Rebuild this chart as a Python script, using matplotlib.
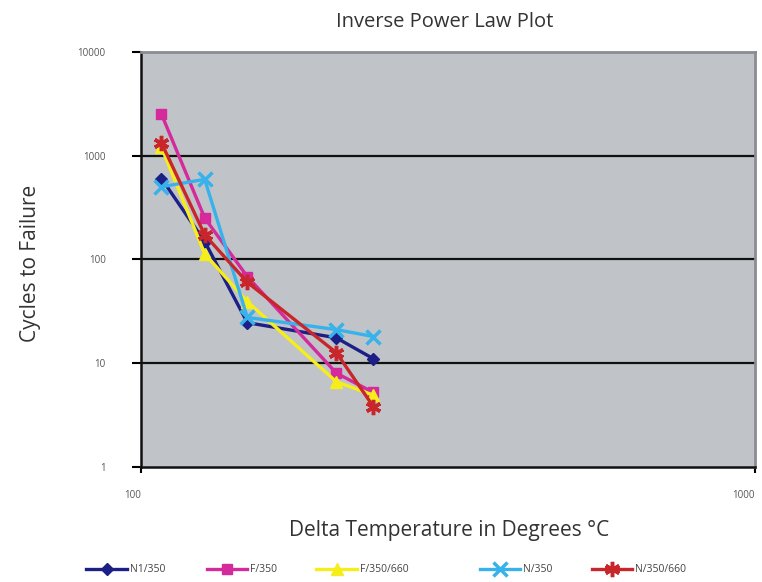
import matplotlib
matplotlib.use('Agg')
import matplotlib.pyplot as plt
from matplotlib.transforms import ScaledTranslation

plt.rcParams['font.family'] = ['Open Sans', 'DejaVu Sans']

# delta temperature (deg C) and cycles to failure per series
temps = [108, 127, 149, 208, 239]
n1_350 = [600, 148, 24.5, 17.5, 11]
f_350 = [2500, 250, 68, 8, 5.2]
f_350_660 = [1200, 113, 39, 6.6, 4.9]
n_350 = [500, 590, 27.5, 21, 18]
n_350_660 = [1320, 172, 60, 12.6, 3.8]

labels = ['N1/350', 'F/350', 'F/350/660', 'N/350', 'N/350/660']
series = [n1_350, f_350, f_350_660, n_350, n_350_660]
colors = ['#1c1f86', '#d42a9c', '#f6ee1a', '#38b2ea', '#c8262a']
markers = ['D', 's', '^', 'x', (6, 2, 0)]
msizes = [6, 7, 8, 10, 11]

fig = plt.figure(figsize=(7.62, 5.82), dpi=100)
ax = fig.add_axes([0.185, 0.198, 0.806, 0.713])
ax.set_facecolor('#c0c4c8')

handles = []
for ys, lab, c, m, ms in zip(series, labels, colors, markers, msizes):
    h, = ax.plot(temps, ys, color=c, lw=2.4, marker=m, ms=ms,
                 mew=2.5 if m in ('x', (6, 2, 0)) else 1, mec=c, mfc=c,
                 label=lab, zorder=3)
    handles.append(h)

ax.set_xscale('log')
ax.set_yscale('log')
ax.set_xlim(100, 1000)
ax.set_ylim(1, 10000)
ax.minorticks_off()
ax.set_xticks([100, 1000])
ax.set_xticklabels(['100', '1000'])
ax.set_yticks([1, 10, 100, 1000, 10000])
ax.set_yticklabels(['1', '10', '100', '1000', '10000'])
ax.tick_params(axis='y', length=6.5, width=1.5, pad=19, labelsize=7,
               labelcolor='#555555')
ax.tick_params(axis='x', length=4, width=1.5, pad=13, labelsize=7,
               labelcolor='#555555')
# nudge the x tick labels like the original (100 left, 1000 right)
for lbl, dx in zip(ax.get_xticklabels(), [-0.08, 0.0]):
    lbl.set_transform(lbl.get_transform() + ScaledTranslation(dx, 0, fig.dpi_scale_trans))
ax.get_xticklabels()[1].set_horizontalalignment('right')

for v in [10, 100, 1000]:
    ax.axhline(v, color='#111111', lw=1.6, zorder=2)

for s in ['left', 'bottom']:
    ax.spines[s].set_color('#111111')
    ax.spines[s].set_linewidth(1.8)
for s in ['top', 'right']:
    ax.spines[s].set_color('#8a8d90')
    ax.spines[s].set_linewidth(2)

fig.text(0.583, 0.962, 'Inverse Power Law Plot', ha='center', va='center',
         fontsize=14.5, color='#333333')
fig.text(0.04, 0.548, 'Cycles to Failure', ha='center', va='center',
         rotation=90, fontsize=15, color='#333333')
fig.text(0.589, 0.088, 'Delta Temperature in Degrees \u00b0C', ha='center',
         va='center', fontsize=15, color='#333333')

leg_x = [0.101, 0.259, 0.403, 0.617, 0.764]
for h, lab, x in zip(handles, labels, leg_x):
    fig.legend([h], [lab], loc='center left', bbox_to_anchor=(x, 0.021),
               frameon=False, fontsize=7.5, handlelength=3.9,
               handletextpad=0.3, labelcolor='#444444')

fig.savefig('out.png', dpi=100)
